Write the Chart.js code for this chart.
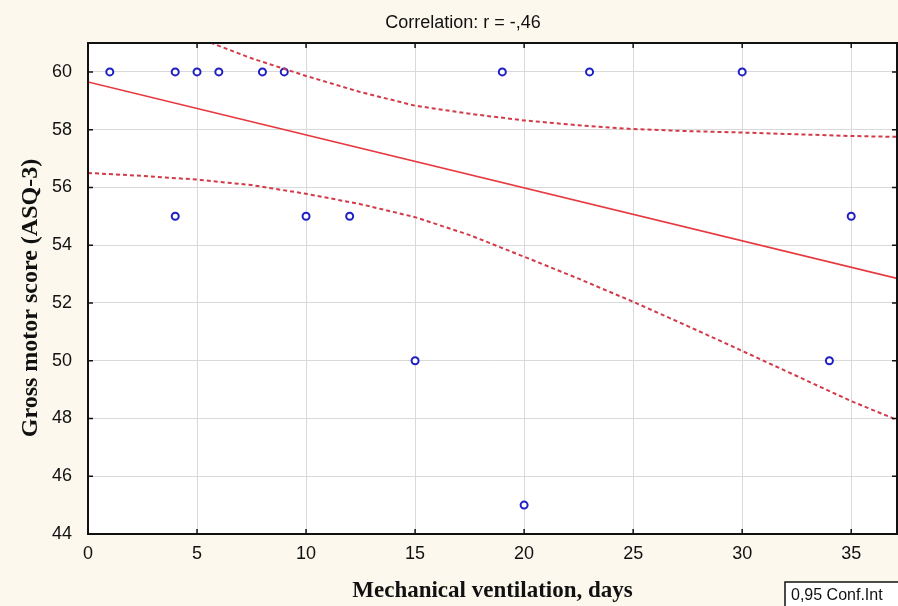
<!DOCTYPE html>
<html>
<head>
<meta charset="utf-8">
<script src="https://cdn.jsdelivr.net/npm/chart.js@4.4.0/dist/chart.umd.min.js"></script>
<style>
    body { margin: 0; background: #fcf8ed; }
    canvas { display: block; }
</style>
</head>
<body>
<canvas id="graph1" width="898" height="606"></canvas>
<script>
// raw points
const ventDays = [1, 4, 4, 5, 6, 8, 9, 10, 12, 15, 19, 20, 23, 30, 34, 35]
const motorScore = [60, 60, 55, 60, 60, 60, 60, 55, 55, 50, 60, 45, 60, 60, 50, 55]

// regression line ends
const fitX = [0, 37.1]
const fitY = [59.65, 52.85]

// 0,95 confidence band
const bandX = [0, 2.5, 5, 7.5, 10, 12.5, 15, 17.5, 20, 22.5, 25, 27.5, 30, 32.5, 35, 37.1]
const bandLow = [56.5, 56.4, 56.27, 56.08, 55.78, 55.42, 54.97, 54.35, 53.6, 52.84, 52.04, 51.2, 50.34, 49.47, 48.6, 47.95]
const bandHigh = [62.8, 62.0, 61.19, 60.47, 59.86, 59.3, 58.83, 58.55, 58.32, 58.15, 58.02, 57.95, 57.9, 57.84, 57.78, 57.75]

const xTicks = [0, 5, 10, 15, 20, 25, 30, 35]
const yTicks = [44, 46, 48, 50, 52, 54, 56, 58, 60]

const titleText = "Correlation: r = -,46"
const yTitleText = "Gross motor score (ASQ-3)"
const legendText = "0,95 Conf.Int"

const toPoints = (xs, ys) => xs.map((x, i) => ({ x: x, y: ys[i] }))

const sans = "'Liberation Sans', Arial, sans-serif"
const serif = "'Liberation Serif', 'Times New Roman', serif"

const frame = {
    id: "frame",
    beforeDraw: (chart) => {
        const { ctx, chartArea: a } = chart
        ctx.save()
        ctx.fillStyle = "#fcf8ed"
        ctx.fillRect(0, 0, chart.width, chart.height)
        ctx.fillStyle = "#ffffff"
        ctx.fillRect(a.left, a.top, a.right - a.left, a.bottom - a.top)
        ctx.restore()
    },
    afterDraw: (chart) => {
        const { ctx, chartArea: a, scales } = chart
        ctx.save()
        ctx.strokeStyle = "#111111"
        ctx.lineWidth = 2
        ctx.strokeRect(a.left, a.top, a.right - a.left, a.bottom - a.top)
        // small inward ticks
        ctx.lineWidth = 1.5
        ctx.beginPath()
        for (let v of xTicks) {
            const px = scales.x.getPixelForValue(v)
            ctx.moveTo(px, a.top)
            ctx.lineTo(px, a.top + 5)
            ctx.moveTo(px, a.bottom)
            ctx.lineTo(px, a.bottom - 5)
        }
        for (let v of yTicks) {
            const py = scales.y.getPixelForValue(v)
            ctx.moveTo(a.left, py)
            ctx.lineTo(a.left + 5, py)
            ctx.moveTo(a.right, py)
            ctx.lineTo(a.right - 5, py)
        }
        ctx.stroke()

        // titles
        ctx.fillStyle = "#111111"
        ctx.textAlign = "center"
        ctx.textBaseline = "middle"
        ctx.font = "18px " + sans
        ctx.fillText(titleText, 463, 23)

        ctx.save()
        ctx.translate(31, 298)
        ctx.rotate(-Math.PI / 2)
        ctx.font = "bold 24px " + serif
        ctx.fillText(yTitleText, 0, 0)
        ctx.restore()

        // legend box
        ctx.fillStyle = "#ffffff"
        ctx.fillRect(785, 582, 120, 30)
        ctx.strokeStyle = "#111111"
        ctx.lineWidth = 1.5
        ctx.strokeRect(785, 582, 120, 30)
        ctx.fillStyle = "#111111"
        ctx.font = "16px " + sans
        ctx.textAlign = "left"
        ctx.fillText(legendText, 791, 596)
        ctx.restore()
    },
}

const config1 = {
    type: "scatter",
    data: {
        datasets: [
            {
                label: "conf high",
                data: toPoints(bandX, bandHigh),
                showLine: true,
                borderColor: "#d23a48",
                borderWidth: 2,
                borderDash: [4, 3],
                pointRadius: 0,
            },
            {
                label: "conf low",
                data: toPoints(bandX, bandLow),
                showLine: true,
                borderColor: "#d23a48",
                borderWidth: 2,
                borderDash: [4, 3],
                pointRadius: 0,
            },
            {
                label: "fit",
                data: toPoints(fitX, fitY),
                showLine: true,
                borderColor: "#e8383f",
                borderWidth: 1.6,
                pointRadius: 0,
            },
            {
                label: "points",
                data: toPoints(ventDays, motorScore),
                pointRadius: 3.5,
                pointBorderWidth: 2,
                borderColor: "#1f1fc4",
                backgroundColor: "#ffffff",
                clip: false,
            },
        ],
    },
    options: {
        responsive: false,
        animation: false,
        layout: {
            autoPadding: false,
            padding: { top: 43, left: 0, bottom: 0, right: 1 },
        },
        plugins: {
            legend: { display: false },
            tooltip: { enabled: false },
            title: { display: false },
        },
        scales: {
            x: {
                type: "linear",
                min: 0,
                max: 37.1,
                afterFit: (scale) => {
                    scale.height = 72
                },
                afterBuildTicks: (scale) => {
                    scale.ticks = xTicks.map((v) => ({ value: v }))
                },
                border: { display: false },
                grid: {
                    color: "#d9d9d9",
                    lineWidth: 1,
                    drawTicks: false,
                },
                ticks: {
                    color: "#111111",
                    font: { family: sans, size: 18 },
                    padding: 9,
                    maxRotation: 0,
                },
                title: {
                    display: true,
                    text: "Mechanical ventilation, days",
                    color: "#111111",
                    font: { family: serif, size: 23, weight: "bold" },
                    padding: { top: 0, bottom: 1 },
                },
            },
            y: {
                type: "linear",
                min: 44,
                max: 61,
                afterFit: (scale) => {
                    scale.width = 88
                },
                afterBuildTicks: (scale) => {
                    scale.ticks = yTicks.map((v) => ({ value: v }))
                },
                border: { display: false },
                grid: {
                    color: "#d9d9d9",
                    lineWidth: 1,
                    drawTicks: false,
                },
                ticks: {
                    color: "#111111",
                    font: { family: sans, size: 18 },
                    padding: 16,
                },
            },
        },
    },
    plugins: [frame],
}

const chart1 = new Chart(document.getElementById("graph1"), config1)
</script>
</body>
</html>
